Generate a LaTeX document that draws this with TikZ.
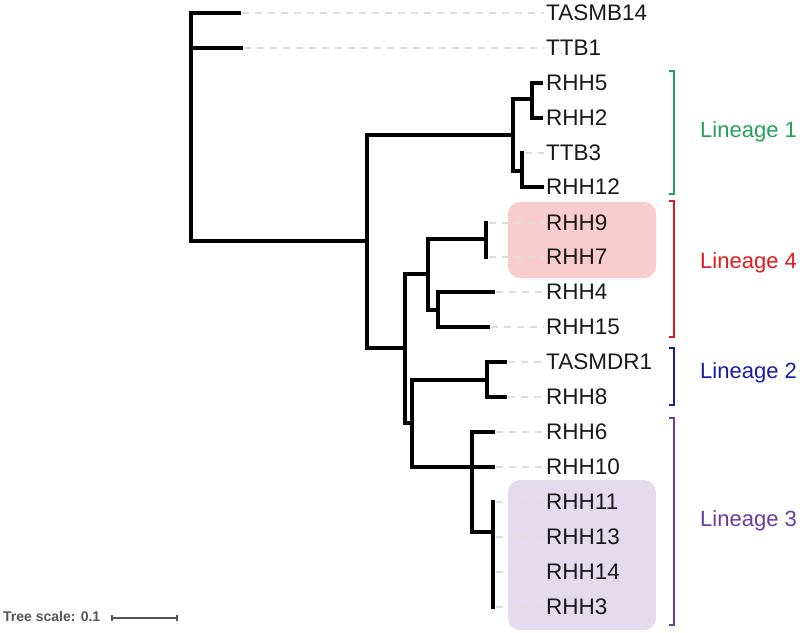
\documentclass[tikz,border=0pt]{standalone}
\usepackage{fontspec}
\setmainfont{Liberation Sans}
\definecolor{linA}{HTML}{25A05A}
\definecolor{linB}{HTML}{E31A1C}
\definecolor{linC}{HTML}{1C1CA0}
\definecolor{linD}{HTML}{6A3D9A}
\definecolor{boxR}{HTML}{F9CDCD}
\definecolor{boxP}{HTML}{E4DCEE}
\definecolor{dashg}{HTML}{DEDEDE}
\definecolor{scaleg}{HTML}{555555}
\begin{document}
\begin{tikzpicture}[x=1pt,y=-1pt,
  branch/.style={line width=3.3pt,black,line join=miter,line cap=rect},
  guide/.style={line width=1.2pt,dashg,dash pattern=on 7pt off 6pt},
  leaf/.style={anchor=west,inner sep=0pt,font=\fontsize{22.5}{26}\selectfont,text=black!90},
  lin/.style={anchor=west,inner sep=0pt,font=\fontsize{22}{26}\selectfont},
  brk/.style={line width=1.6pt},
  hl/.style={rounded corners=12pt}]
\useasboundingbox (0,0) rectangle (800,632);
% highlight boxes
\fill[boxR,hl] (508,202) rectangle (656,278);
\fill[boxP,hl] (508,480) rectangle (656,630);
% internal nodes
\coordinate (R) at (191,241);
\coordinate (N1) at (367,241);
\coordinate (L1) at (513,135);
\coordinate (A) at (532,99);
\coordinate (B) at (522,171);
\coordinate (N2) at (405,348);
\coordinate (L4) at (428,274);
\coordinate (C) at (486,239);
\coordinate (D) at (438,310);
\coordinate (N3) at (412,423);
\coordinate (L2) at (487,380);
\coordinate (L3) at (472,467);
\coordinate (E) at (493,532);
% leaf tips
\coordinate (t1) at (239,13);
\coordinate (t2) at (241,48);
\coordinate (t3) at (541,83);
\coordinate (t4) at (541,118);
\coordinate (t5) at (522,153);
\coordinate (t6) at (542,187);
\coordinate (t7) at (486,223);
\coordinate (t8) at (486,257);
\coordinate (t9) at (493,292);
\coordinate (t10) at (488,327);
\coordinate (t11) at (505,362);
\coordinate (t12) at (505,397);
\coordinate (t13) at (493,432);
\coordinate (t14) at (493,467);
\coordinate (t15) at (493,502);
\coordinate (t16) at (493,537);
\coordinate (t17) at (493,572);
\coordinate (t18) at (493,607);
% labels
\node[leaf] (l1) at (546,13) {TASMB14};
\node[leaf] (l2) at (546,48) {TTB1};
\node[leaf] (l3) at (546,83) {RHH5};
\node[leaf] (l4) at (546,118) {RHH2};
\node[leaf] (l5) at (546,153) {TTB3};
\node[leaf] (l6) at (546,187) {RHH12};
\node[leaf] (l7) at (546,223) {RHH9};
\node[leaf] (l8) at (546,257) {RHH7};
\node[leaf] (l9) at (546,292) {RHH4};
\node[leaf] (l10) at (546,327) {RHH15};
\node[leaf] (l11) at (546,362) {TASMDR1};
\node[leaf] (l12) at (546,397) {RHH8};
\node[leaf] (l13) at (546,432) {RHH6};
\node[leaf] (l14) at (546,467) {RHH10};
\node[leaf] (l15) at (546,502) {RHH11};
\node[leaf] (l16) at (546,537) {RHH13};
\node[leaf] (l17) at (546,572) {RHH14};
\node[leaf] (l18) at (546,607) {RHH3};
% guide lines
\foreach \i in {1,...,18} {
  \draw[guide,shorten <=3pt,shorten >=2pt] (t\i) -- (t\i -| l\i.west);
}
% branches
\draw[branch] (R) |- (t1);
\draw[branch] (R) |- (t2);
\draw[branch] (R) -- (N1);
\draw[branch] (N1) |- (L1);
\draw[branch] (N1) |- (N2);
\draw[branch] (L1) |- (A);
\draw[branch] (L1) |- (B);
\draw[branch] (A) |- (t3);
\draw[branch] (A) |- (t4);
\draw[branch] (B) |- (t5);
\draw[branch] (B) |- (t6);
\draw[branch] (N2) |- (L4);
\draw[branch] (N2) |- (N3);
\draw[branch] (L4) |- (C);
\draw[branch] (L4) |- (D);
\draw[branch] (C) |- (t7);
\draw[branch] (C) |- (t8);
\draw[branch] (D) |- (t9);
\draw[branch] (D) |- (t10);
\draw[branch] (N3) |- (L2);
\draw[branch] (N3) |- (L3);
\draw[branch] (L2) |- (t11);
\draw[branch] (L2) |- (t12);
\draw[branch] (L3) |- (t13);
\draw[branch] (L3) |- (t14);
\draw[branch] (L3) |- (E);
\draw[branch] (E) |- (t15);
\draw[branch] (E) |- (t16);
\draw[branch] (E) |- (t17);
\draw[branch] (E) |- (t18);
% brackets
\draw[brk,linA] (669,71) -- (674,71) -- (674,194) -- (669,194);
\draw[brk,linB] (669,201) -- (674,201) -- (674,337) -- (669,337);
\draw[brk,linC] (669,348) -- (674,348) -- (674,405) -- (669,405);
\draw[brk,linD] (669,418) -- (674,418) -- (674,625) -- (669,625);
\node[lin,text=linA] (g1) at (700,132) {Lineage 1};
\node[lin,text=linB] (g4) at (700,263) {Lineage 4};
\node[lin,text=linC] (g2) at (700,373) {Lineage 2};
\node[lin,text=linD] (g3) at (700,521) {Lineage 3};
% tree scale
\node[anchor=west,inner sep=0pt,text=scaleg,font=\fontsize{14}{16}\selectfont\bfseries] (ts) at (3,616) {Tree scale: 0.1};
\coordinate (s1) at (112,618);
\coordinate (s2) at (177,618);
\draw[scaleg,line width=1.2pt] (s1) -- (s2);
\draw[scaleg,line width=1.2pt] ([yshift=-3pt]s1) -- ([yshift=3pt]s1);
\draw[scaleg,line width=1.2pt] ([yshift=-3pt]s2) -- ([yshift=3pt]s2);
\end{tikzpicture}
\end{document}
